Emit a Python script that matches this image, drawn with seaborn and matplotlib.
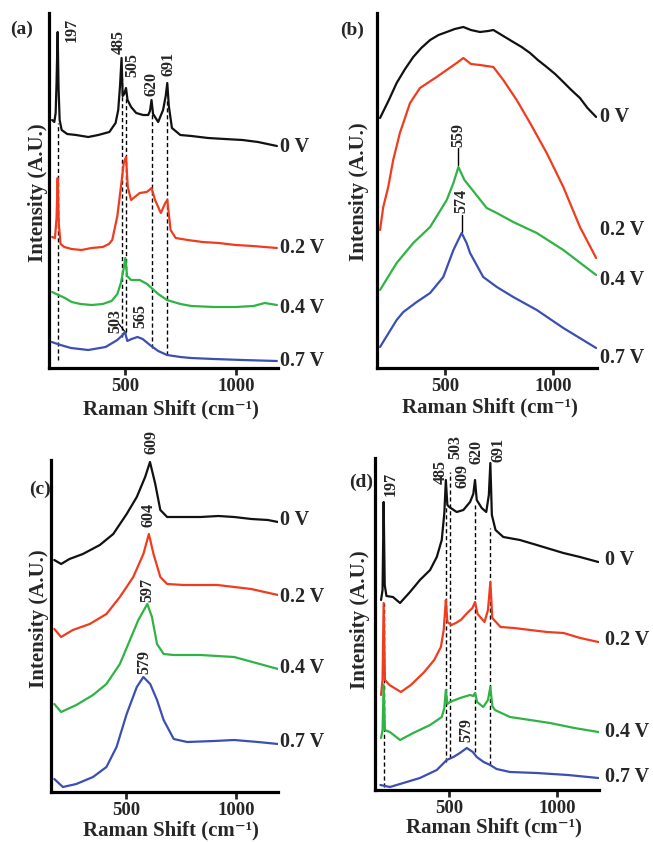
import numpy as np
import pandas as pd
import matplotlib
matplotlib.use('Agg')
import matplotlib.pyplot as plt
import matplotlib.transforms as mtransforms
import seaborn as sns

# Raman spectra (intensity in arbitrary units, offset per bias)
biases = ['0 V', '0.2 V', '0.4 V', '0.7 V']
colors = ['#111111', '#f03c1e', '#2fb344', '#3b4fb3']

# ---- panel (a)
a_x = [
    [172, 182, 188, 192, 197, 201, 206, 215, 240, 280, 335, 380, 430, 458, 470, 478, 485, 490, 497, 505, 512,
     528, 551, 582, 605, 613, 620, 627, 650, 672, 684, 691, 698, 712, 750, 800, 875, 950, 1030, 1100, 1185],
    [172, 185, 192, 197, 202, 210, 227, 260, 304, 350, 400, 428, 443, 466, 482, 495, 505, 513, 528, 550, 567,
     598, 610, 620, 636, 662, 682, 691, 706, 729, 783, 850, 922, 1000, 1076, 1185],
    [172, 200, 230, 260, 300, 350, 400, 440, 466, 482, 495, 502, 510, 528, 567, 600, 620, 650, 690, 750, 800,
     900, 1000, 1080, 1130, 1185],
    [170, 210, 257, 335, 413, 466, 490, 500, 511, 530, 557, 580, 613, 650, 690, 750, 798, 900, 1030, 1185],
]
a_y = [
    [248, 246, 255, 285, 336, 280, 248, 238, 234, 233, 231, 233, 236, 245, 258, 282, 310, 272, 274, 280, 268,
     261, 255, 253, 253, 257, 268, 254, 246, 258, 272, 285, 262, 240, 233, 232, 230, 229, 228, 226, 222],
    [131, 130, 150, 190, 145, 124, 121, 119, 118, 120, 121, 124, 128, 152, 181, 205, 211, 181, 168, 172, 175,
     176, 178, 180, 168, 155, 165, 168, 138, 130, 128, 126, 125, 123, 122, 120],
    [76, 73, 70, 66, 64, 63, 64, 67, 74, 85, 100, 110, 92, 88, 88, 84, 80, 74, 68, 64, 62,
     61, 61, 62, 65, 63],
    [26, 23, 20, 18, 21, 28, 33, 36, 27, 29, 31, 29, 23, 17, 13, 11, 10, 9, 8, 7],
]
a_lines = [197, 485, 505, 620, 691]
a_line_top = [245, 290, 272, 255, 270]
a_line_bot = [8, 31, 36, 20, 13]
a_peaks = ['197', '485', '505', '620', '691', '503', '565']
a_peak_x = [262, 473, 532, 622, 698, 455, 568]
a_peak_y = [338, 326, 303, 284, 304, 47, 52]
a_bias_y = [221, 120, 60, 7]

# ---- panel (b)
b_x = [
    [199, 240, 276, 315, 353, 390, 431, 470, 508, 545, 585, 620, 662, 700, 724, 770, 816, 855, 894, 930, 971,
     1010, 1048, 1085, 1125, 1160, 1200],
    [199, 214, 237, 260, 291, 338, 384, 461, 554, 585, 620, 662, 724, 770, 832, 894, 971, 1048, 1125, 1200],
    [199, 276, 353, 431, 508, 539, 562, 590, 616, 693, 740, 816, 925, 1048, 1200],
    [199, 276, 307, 369, 431, 492, 539, 577, 600, 616, 677, 740, 816, 925, 1048, 1200],
]
b_y = [
    [250, 268, 285, 299, 311, 320, 328, 333, 336, 339, 341, 338, 336, 337, 338, 332, 326, 321, 315, 308, 301,
     294, 286, 278, 270, 260, 251],
    [138, 161, 181, 208, 235, 265, 280, 291, 305, 310, 304, 303, 301, 288, 268, 245, 215, 181, 141, 110],
    [78, 105, 125, 141, 168, 185, 201, 188, 181, 160, 155, 146, 135, 118, 93],
    [21, 48, 56, 66, 75, 91, 118, 135, 125, 115, 91, 81, 71, 58, 40, 20],
]
b_peaks = ['559', '574']
b_peak_x = [560, 578]
b_peak_y = [233, 167]
b_tick_x = [560, 577]
b_tick_top = [220, 153]
b_tick_bot = [203, 136]
b_bias_y = [251, 138, 88, 10]

# ---- panel (c)
c_x = [
    [174, 205, 243, 304, 381, 442, 503, 549, 587, 609, 633, 656, 687, 763, 839, 920, 992, 1070, 1145, 1191],
    [174, 205, 258, 335, 411, 472, 533, 579, 604, 625, 656, 687, 763, 916, 1069, 1191],
    [174, 205, 274, 350, 411, 472, 518, 556, 597, 618, 641, 671, 717, 839, 992, 1191],
    [174, 213, 274, 350, 411, 457, 503, 549, 579, 610, 641, 671, 717, 778, 900, 992, 1100, 1191],
]
c_y = [
    [232, 228, 233, 238, 247, 258, 278, 295, 315, 330, 308, 282, 275, 275, 275, 276, 275, 273, 272, 270],
    [163, 155, 162, 168, 178, 195, 215, 238, 258, 238, 215, 208, 207, 207, 203, 197],
    [88, 80, 87, 97, 108, 128, 152, 172, 188, 175, 148, 138, 137, 137, 135, 123],
    [13, 5, 8, 15, 25, 45, 78, 105, 115, 108, 92, 72, 53, 50, 51, 52, 50, 48],
]
c_peaks = ['609', '604', '597', '579']
c_peak_x = [618, 604, 595, 582]
c_peak_y = [350, 277, 202, 130]
c_bias_y = [272, 195, 124, 50]

# ---- panel (d)
d_x = [
    [185, 192, 197, 202, 210, 240, 273, 319, 365, 412, 443, 466, 478, 485, 492, 501, 535, 566, 597, 612, 620,
     628, 651, 672, 684, 691, 698, 715, 751, 828, 906, 1029, 1106, 1191],
    [185, 192, 197, 203, 224, 277, 323, 385, 431, 462, 475, 480, 485, 492, 511, 531, 554, 584, 608, 620, 632,
     664, 680, 691, 700, 738, 800, 876, 953, 1030, 1107, 1191],
    [185, 192, 197, 203, 226, 273, 334, 412, 466, 478, 485, 492, 504, 551, 597, 612, 620, 630, 658, 680, 691,
     700, 712, 782, 875, 967, 1080, 1191],
    [182, 226, 288, 365, 443, 489, 520, 550, 582, 610, 628, 660, 690, 720, 782, 906, 1050, 1191],
]
d_y = [
    [190, 200, 288, 205, 194, 193, 187, 198, 210, 220, 233, 250, 277, 310, 285, 283, 278, 280, 288, 296, 310,
     290, 282, 278, 295, 327, 275, 260, 253, 250, 245, 237, 233, 228],
    [95, 110, 187, 110, 105, 98, 105, 118, 130, 143, 160, 175, 190, 168, 165, 167, 170, 177, 182, 188, 176,
     168, 180, 208, 172, 163, 162, 160, 158, 157, 152, 148],
    [52, 60, 105, 60, 58, 50, 57, 65, 73, 82, 100, 86, 88, 92, 95, 94, 97, 88, 83, 90, 103,
     84, 80, 73, 70, 67, 62, 58],
    [5, 3, 7, 12, 20, 30, 33, 37, 42, 38, 33, 28, 25, 21, 18, 17, 15, 12],
]
d_lines = [197, 485, 503, 620, 691]
d_line_top = [187, 283, 318, 285, 262]
d_line_bot = [3, 28, 32, 38, 25]
d_peaks = ['197', '485', '503', '609', '620', '691', '579']
d_peak_x = [231, 463, 527, 560, 629, 731, 578]
d_peak_y = [306, 318, 343, 314, 338, 340, 60]
d_bias_y = [230, 150, 58, 13]

sns.set_style('ticks')
plt.rcParams['font.family'] = ['Liberation Serif', 'DejaVu Serif']
plt.rcParams['font.weight'] = 'bold'

W, H = 653, 842
fig = plt.figure(figsize=(W / 100, H / 100), dpi=100)


def make_df(xs, ys):
    rows = []
    for b, x, y in zip(biases, xs, ys):
        rows.append(pd.DataFrame({'shift': x, 'intensity': y, 'bias': b}))
    return pd.concat(rows, ignore_index=True)


def panel(rect_px, xlim, xs, ys, bias_y, bias_xf, letter, letter_xy, ylab_xy, xlab_xy):
    l, t, r, b = rect_px
    ax = fig.add_axes([l / W, 1 - b / H, (r - l) / W, (b - t) / H])
    df = make_df(xs, ys)
    sns.lineplot(data=df, x='shift', y='intensity', hue='bias', palette=colors, hue_order=biases,
                 estimator=None, sort=False, legend=False, linewidth=1.6, ax=ax, zorder=3)
    ax.set_xlim(*xlim)
    ax.set_ylim(0, b - t)
    ax.set_xticks([500, 1000])
    ax.set_yticks([])
    ax.tick_params(axis='x', direction='out', length=5, width=2, labelsize=13.5, pad=2)
    for lab in ax.get_xticklabels():
        lab.set_fontweight('bold')
    sns.despine(ax=ax)
    for s in ['left', 'bottom']:
        ax.spines[s].set_linewidth(2.3)
        ax.spines[s].set_color('black')
    ax.set_xlabel('Raman Shift (cm⁻¹)', fontsize=15, fontweight='bold', va='center')
    ax.xaxis.set_label_coords(*xlab_xy)
    ax.set_ylabel('Intensity (A.U.)', fontsize=15, fontweight='bold', va='center', ha='center')
    ax.yaxis.set_label_coords(*ylab_xy)
    trans = mtransforms.blended_transform_factory(ax.transAxes, ax.transData)
    for name, yv in zip(biases, bias_y):
        ax.text(bias_xf, yv, name, transform=trans, fontsize=14.5, fontweight='bold',
                ha='left', va='center', clip_on=False)
    fig.text(letter_xy[0] / W, 1 - letter_xy[1] / H, letter, fontsize=14, fontweight='bold',
             ha='center', va='center')
    return ax


def peak_labels(ax, names, px, py):
    for n, x, y in zip(names, px, py):
        ax.text(x, y, n, rotation=90, fontsize=11.5, fontweight='bold', ha='center', va='center',
                clip_on=False)


def dashed(ax, xs, top, bot):
    for x, y1, y0 in zip(xs, top, bot):
        ax.plot([x, x], [y0, y1], color='black', lw=1.0, ls=(0, (3, 2)), zorder=2)


ax_a = panel((49, 13, 278, 368), (158, 1190), a_x, a_y, a_bias_y, 1.01, '(a)', (22, 29),
             (-0.046, 0.494), (0.533, -0.118))
dashed(ax_a, a_lines, a_line_top, a_line_bot)
peak_labels(ax_a, a_peaks, a_peak_x, a_peak_y)
ax_a.plot([473, 505], [44, 35], color='black', lw=0.9)

ax_b = panel((377, 13, 597, 368), (185, 1204), b_x, b_y, b_bias_y, 1.014, '(b)', (352, 30),
             (-0.080, 0.496), (0.514, -0.110))
peak_labels(ax_b, b_peaks, b_peak_x, b_peak_y)
for x, y1, y0 in zip(b_tick_x, b_tick_top, b_tick_bot):
    ax_b.plot([x, x], [y0, y1], color='black', lw=1.0)

ax_c = panel((51, 460, 278, 792), (159, 1191), c_x, c_y, c_bias_y, 1.009, '(c)', (40, 489),
             (-0.055, 0.521), (0.529, -0.117))
peak_labels(ax_c, c_peaks, c_peak_x, c_peak_y)

ax_d = panel((375, 458, 599, 790), (157, 1194), d_x, d_y, d_bias_y, 1.027, '(d)', (361, 482),
             (-0.069, 0.512), (0.531, -0.114))
dashed(ax_d, d_lines, d_line_top, d_line_bot)
peak_labels(ax_d, d_peaks, d_peak_x, d_peak_y)

fig.savefig('out.png', dpi=100, facecolor='white')
